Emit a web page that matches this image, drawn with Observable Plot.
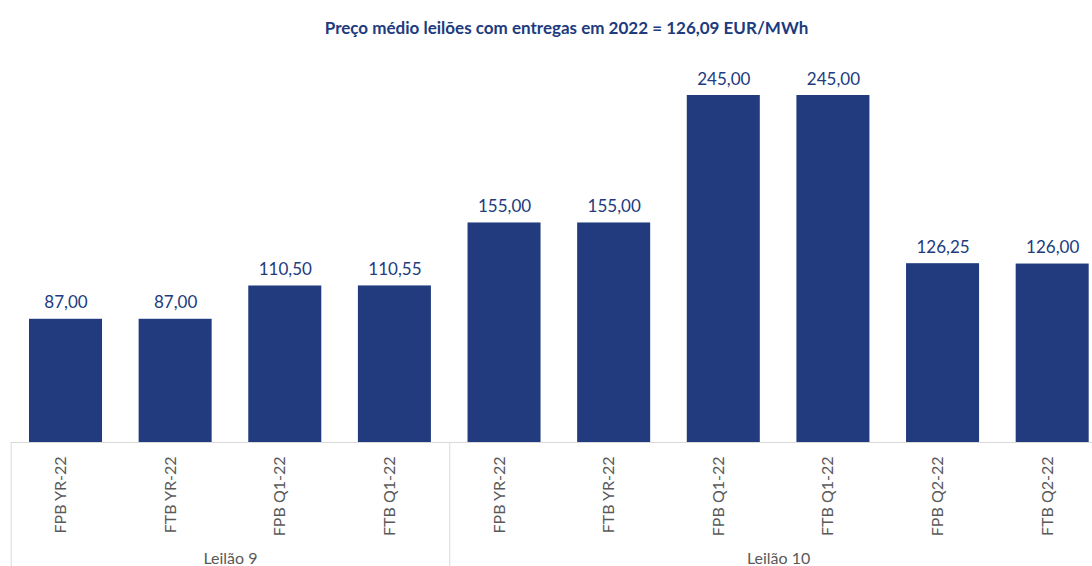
<!DOCTYPE html>
<html>
<head>
<meta charset="utf-8">
<script src="https://cdn.jsdelivr.net/npm/d3@7"></script>
<script src="https://cdn.jsdelivr.net/npm/@observablehq/plot@0.6"></script>
<style>
  html, body { margin: 0; padding: 0; background: #fff; overflow: hidden; }
  #title { height: 56px; line-height: 56px; width: 1092px; padding-left: 41px; box-sizing: border-box;
    text-align: center; font-family: Lato, sans-serif; font-weight: bold; font-size: 17px; color: #203A7E; }
  svg { display: block; }
</style>
</head>
<body>
<div id="title">Preço médio leilões com entregas em 2022 = 126,09 EUR/MWh</div>
<div id="chart"></div>
<script>
const groups = ["Leilão 9", "Leilão 9", "Leilão 9", "Leilão 9",
                "Leilão 10", "Leilão 10", "Leilão 10", "Leilão 10", "Leilão 10", "Leilão 10"];
const categories = ["FPB YR-22", "FTB YR-22", "FPB Q1-22", "FTB Q1-22",
                    "FPB YR-22", "FTB YR-22", "FPB Q1-22", "FTB Q1-22", "FPB Q2-22", "FTB Q2-22"];
const values = [87.00, 87.00, 110.50, 110.55, 155.00, 155.00, 245.00, 245.00, 126.25, 126.00];

const data = values.map((v, i) => ({i, v, cat: categories[i], group: groups[i]}));
const groupNames = Array.from(new Set(groups));
const groupData = groupNames.map(g => {
  const idx = data.filter(d => d.group === g).map(d => d.i);
  return {name: g, start: d3.min(idx), end: d3.max(idx)};
});
const separators = groupData.map(g => g.start - 0.5);
const fmt = v => v.toFixed(2).replace(".", ",");

const barColor = "#213B7E";
const grid = "#D9D9D9";
const gray = "#595959";
const half = 0.333;

const chart = Plot.plot({
  width: 1092,
  height: 510,
  marginTop: 39,
  marginBottom: 124,
  marginLeft: 10.7,
  marginRight: -15,
  style: {fontFamily: "Lato, sans-serif", background: "#fff"},
  x: {domain: [-0.5, values.length - 0.5], axis: null, label: null},
  y: {domain: [0, d3.max(values)], axis: null, label: null},
  marks: [
    Plot.rectY(data, {x1: d => d.i - half, x2: d => d.i + half, y: "v", fill: barColor}),
    Plot.ruleY([0], {stroke: grid, strokeWidth: 1}),
    Plot.axisX(separators, {anchor: "bottom", tickSize: 124, stroke: grid, tickFormat: () => "", label: null}),
    Plot.text(data, {x: "i", y: "v", text: d => fmt(d.v), dy: -11, lineAnchor: "bottom",
      fill: barColor, fontSize: 17}),
    Plot.text(data, {x: "i", text: "cat", frameAnchor: "bottom", dy: 14, rotate: -90,
      textAnchor: "end", fill: gray, fontSize: 16}),
    Plot.text(groupData, {x: d => (d.start + d.end) / 2, text: "name", frameAnchor: "bottom",
      dy: 121, lineAnchor: "bottom", fill: gray, fontSize: 16})
  ]
});
document.getElementById("chart").appendChild(chart);
</script>
</body>
</html>
